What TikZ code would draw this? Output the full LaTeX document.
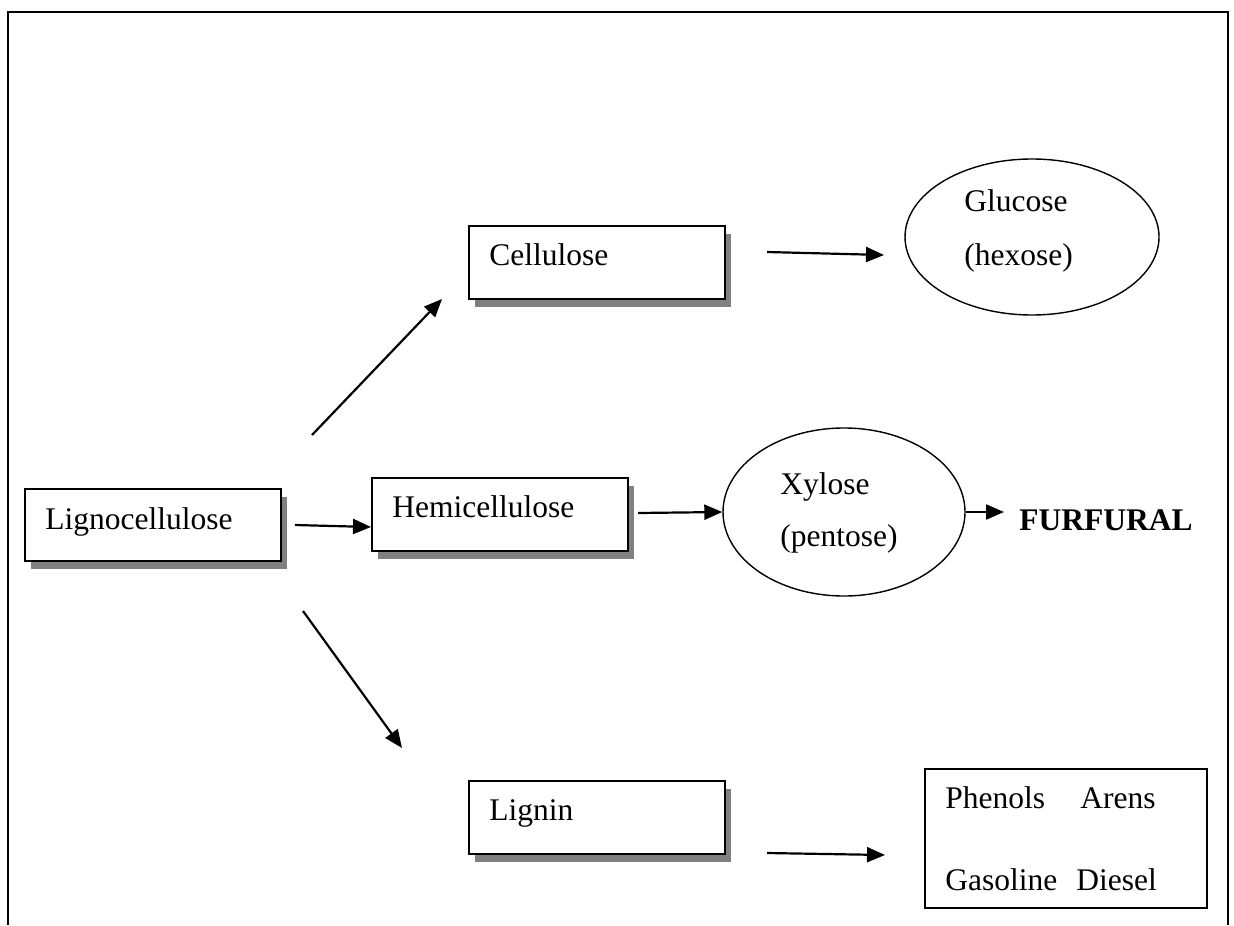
\documentclass[tikz,border=0pt]{standalone}
\usepackage{fontspec}
\setmainfont{Liberation Serif}
\usetikzlibrary{arrows.meta,shapes.geometric,calc,shadows}
\definecolor{shadowgray}{HTML}{808080}
\begin{document}
\begin{tikzpicture}[x=0.5pt,y=-0.5pt,
  every node/.style={font=\fontsize{15.75pt}{19pt}\selectfont},
  box/.style={draw, line width=0.9pt, fill=white, anchor=north west, inner sep=0pt,
    minimum width=128pt, minimum height=36.5pt,
    drop shadow={shadow xshift=3.2pt, shadow yshift=-4.2pt, opacity=1, fill=shadowgray}},
  plainbox/.style={draw, line width=0.75pt, fill=white, anchor=north west, inner sep=0pt},
  ell/.style={draw, ellipse, line width=0.7pt, inner sep=0pt},
  txt/.style={inner sep=0pt, anchor=base west},
  arr/.style={line width=1.1pt, -{Triangle[length=9pt,width=7.5pt]}},
  frame/.style={line width=1.1pt}
]
\useasboundingbox (0,0) rectangle (1234,925);
% outer frame (open at the bottom)
\draw[frame] (8,925) -- (8,12) -- (1228,12) -- (1228,925);

% boxes
\node[box, minimum height=36pt] (ligno) at (24,488) {};
\node[txt] (lignoT) at (45,529) {Lignocellulose};

\node[box] (cell) at (468,225) {};
\node[txt] (cellT) at (489,265) {Cellulose};

\node[box] (hemi) at (371,477) {};
\node[txt] (hemiT) at (392,517) {Hemicellulose};

\node[box] (lignin) at (468,780) {};
\node[txt] (ligninT) at (489,820) {Lignin};

% ellipses
\node[ell, minimum width=127pt, minimum height=78pt] (gluc) at (1032,237) {};
\node[txt] (glucT1) at (964,212) {Glucose};
\node[txt] (glucT2) at (964,265) {(hexose)};

\node[ell, minimum width=121pt, minimum height=84pt] (xyl) at (844,512) {};
\node[txt] (xylT1) at (780,494) {Xylose};
\node[txt] (xylT2) at (780,546) {(pentose)};

\node[txt, font=\fontsize{15.75pt}{19pt}\selectfont\bfseries] (furf) at (1019,530) {FURFURAL};

% products box
\node[plainbox, minimum width=141pt, minimum height=69.5pt] (prod) at (924,768) {};
\node[txt] (prodA) at (945,808) {Phenols};
\node[txt] (prodB) at (1080,808) {Arens};
\node[txt] (prodC) at (945,890) {Gasoline};
\node[txt] (prodD) at (1076,890) {Diesel};

% connectors
\coordinate (a1s) at (312,435);
\coordinate (a1e) at (442,299);
\draw[arr] (a1s) -- (a1e);

\coordinate (a2s) at (295,525);
\coordinate (a2e) at (371,527);
\draw[arr] (a2s) -- (a2e);

\coordinate (a3s) at (303,611);
\coordinate (a3e) at (402,748);
\draw[arr] (a3s) -- (a3e);

\coordinate (a4s) at (767,252);
\coordinate (a4e) at (884,255);
\draw[arr] (a4s) -- (a4e);

\coordinate (a5s) at (638,513);
\draw[arr] (a5s) -- (xyl.west);

\coordinate (a6e) at (1004,512);
\draw[arr] (xyl.east) -- (a6e);

\coordinate (a7s) at (767,853);
\coordinate (a7e) at (885,855);
\draw[arr] (a7s) -- (a7e);
\end{tikzpicture}
\end{document}
